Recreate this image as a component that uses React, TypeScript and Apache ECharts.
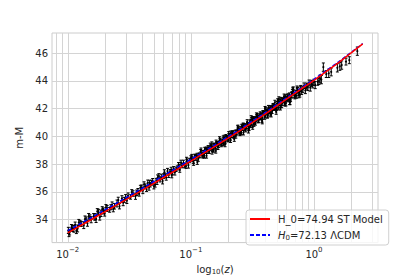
import React, { useEffect, useRef } from "react";
import * as echarts from "echarts";

// ---- data ----
const logZ = [
  -1.995, -1.985, -1.97, -1.95, -1.93, -1.91, -1.89, -1.87, -1.85, -1.83,
  -1.81, -1.79, -1.77, -1.75, -1.73, -1.72, -1.70, -1.68, -1.66, -1.64,
  -1.62, -1.60, -1.58, -1.56, -1.54, -1.52, -1.51, -1.49, -1.47, -1.45,
  -1.43, -1.41, -1.39, -1.37, -1.35, -1.34, -1.33, -1.31, -1.29, -1.28,
  -1.27, -1.25, -1.24, -1.23, -1.21, -1.19, -1.18, -1.17, -1.15, -1.14,
  -1.13, -1.11, -1.10, -1.09, -1.07, -1.06, -1.05, -1.03, -1.02, -1.01,
  -0.99, -0.98, -0.97, -0.96, -0.95, -0.94, -0.93, -0.92, -0.91, -0.90,
  -0.89, -0.88, -0.87, -0.86, -0.85, -0.84, -0.83, -0.82, -0.81, -0.80,
  -0.79, -0.78, -0.77, -0.76, -0.75, -0.74, -0.73, -0.72, -0.71, -0.70,
  -0.69, -0.68, -0.67, -0.66, -0.65, -0.64, -0.63, -0.62, -0.61, -0.60,
  -0.59, -0.58, -0.57, -0.56, -0.55, -0.54, -0.53, -0.52, -0.51, -0.50,
  -0.49, -0.48, -0.47, -0.46, -0.45, -0.44, -0.43, -0.42, -0.41, -0.40,
  -0.39, -0.38, -0.37, -0.36, -0.35, -0.34, -0.33, -0.32, -0.31, -0.30,
  -0.29, -0.28, -0.27, -0.26, -0.25, -0.24, -0.23, -0.22, -0.21, -0.20,
  -0.19, -0.18, -0.17, -0.16, -0.15, -0.14, -0.13, -0.12, -0.11, -0.10,
  -0.09, -0.08, -0.07, -0.06, -0.05, -0.04, -0.03, -0.02, -0.01, 0.00,
  0.01, 0.03, 0.04, 0.05, 0.06, 0.076, 0.10, 0.12, 0.14, 0.19,
  0.21, 0.225, 0.26, 0.287, 0.352,
  -0.895, -0.875, -0.855, -0.835, -0.815, -0.795, -0.775, -0.755, -0.735, -0.715,
  -0.695, -0.675, -0.655, -0.635, -0.615, -0.595, -0.575, -0.555, -0.535, -0.515,
  -0.495, -0.475, -0.455, -0.435, -0.415, -0.395, -0.375, -0.355, -0.335, -0.315,
  -0.295, -0.275, -0.255, -0.235, -0.215, -0.195, -0.175, -0.155, -0.135, -0.115,
  -1.99, -1.96, -1.94, -1.92, -1.90, -1.86, -1.84, -1.82, -1.78, -1.76,
  -1.74, -1.71, -1.69, -1.65, -1.63, -1.59, -1.55, -1.53, -1.48, -1.44,
  -1.42, -1.40, -1.38, -1.36, -1.32, -1.30, -1.26, -1.22, -1.20, -1.16,
  -1.12, -1.08, -1.04, -1.00, -1.335, -1.275, -1.215, -1.155, -1.095, -1.035,
  -0.9925, -0.9775, -0.9625, -0.9475, -0.9325, -0.9175, -0.9025, -0.8875, -0.8725, -0.8575,
  -0.8425, -0.8275, -0.8125, -0.7975, -0.7825, -0.7675, -0.7525, -0.7375, -0.7225, -0.7075,
  -0.6925, -0.6775, -0.6625, -0.6475, -0.6325, -0.6175, -0.6025, -0.5875, -0.5725, -0.5575,
  -0.5425, -0.5275, -0.5125, -0.4975, -0.4825, -0.4675, -0.4525, -0.4375, -0.4225, -0.4075,
  -0.3925, -0.3775, -0.3625, -0.3475, -0.3325, -0.3175, -0.3025, -0.2875, -0.2725, -0.2575,
  -0.2425, -0.2275, -0.2125, -0.1975, -0.1825, -0.1675, -0.1525, -0.1375, -0.1225, -0.1075,
  -0.60, -0.5775, -0.555, -0.5325, -0.51, -0.4875, -0.465, -0.4425, -0.42, -0.3975,
  -0.375, -0.3525, -0.33, -0.3075, -0.285, -0.2625, -0.24, -0.2175, -0.195, -0.1725,
];
const mu = [
  33.23, 33.08, 33.45, 33.35, 33.20, 33.80, 33.70, 33.60, 34.00, 34.25,
  34.00, 34.25, 34.05, 34.55, 34.46, 34.76, 34.46, 34.81, 34.71, 35.07,
  34.97, 35.17, 34.97, 35.53, 35.43, 35.38, 35.73, 35.64, 35.89, 35.69,
  36.05, 36.30, 36.10, 36.41, 36.66, 36.32, 36.52, 36.77, 36.53, 36.83,
  37.03, 36.89, 37.09, 36.79, 37.20, 37.50, 37.21, 37.46, 37.42, 37.67,
  37.42, 37.73, 37.94, 37.59, 37.90, 38.10, 37.90, 38.21, 37.92, 38.27,
  38.37, 38.23, 38.58, 38.44, 38.64, 38.39, 38.65, 38.90, 38.66, 38.86,
  38.61, 39.02, 38.92, 39.18, 38.93, 39.13, 39.44, 39.04, 39.35, 39.25,
  39.51, 39.21, 39.52, 39.72, 39.48, 39.64, 39.94, 39.60, 39.90, 39.81,
  40.07, 39.87, 40.08, 40.28, 39.99, 40.30, 40.25, 40.61, 40.31, 40.57,
  40.28, 40.59, 40.80, 40.56, 40.72, 40.87, 40.68, 41.04, 40.90, 41.21,
  40.97, 41.28, 41.19, 41.50, 41.16, 41.42, 41.62, 41.38, 41.64, 41.40,
  41.81, 41.72, 42.08, 41.80, 42.01, 41.82, 42.23, 42.09, 42.05, 42.37,
  42.08, 42.39, 42.65, 42.41, 42.62, 42.43, 42.85, 42.71, 42.67, 42.98,
  42.69, 43.00, 43.21, 42.97, 43.13, 42.95, 43.36, 43.17, 43.43, 43.24,
  43.40, 43.66, 43.32, 43.63, 43.55, 43.86, 43.52, 43.83, 43.74, 43.90,
  43.71, 43.94, 44.00, 44.15, 44.10, 45.00, 44.50, 44.55, 44.65, 44.95,
  45.05, 45.15, 45.40, 45.50, 46.15,
  38.64, 39.10, 38.95, 39.21, 39.02, 39.58, 39.34, 39.60, 39.47, 39.98,
  39.74, 40.25, 40.06, 40.03, 40.49, 40.35, 40.82, 40.49, 40.86, 40.77,
  41.29, 40.96, 41.38, 41.35, 41.71, 41.48, 41.85, 41.63, 42.20, 42.07,
  42.55, 42.22, 42.64, 42.36, 42.84, 42.76, 43.23, 42.90, 43.33, 43.05,
  32.98, 33.37, 33.63, 33.37, 33.73, 34.05, 33.73, 34.17, 34.20, 34.60,
  34.17, 34.63, 34.89, 34.90, 34.77, 35.42, 35.23, 35.61, 35.99, 35.94,
  35.88, 36.30, 36.55, 36.21, 36.67, 36.42, 37.14, 37.15, 37.03, 37.61,
  37.63, 38.11, 37.86, 38.44, 36.66, 36.71, 37.42, 37.19, 37.83, 38.33,
  38.56, 38.09, 38.57, 38.15, 38.63, 39.02, 38.60, 39.08, 38.61, 39.09,
  39.37, 38.90, 39.38, 38.96, 39.45, 39.83, 39.42, 39.90, 39.43, 39.92,
  40.20, 39.74, 40.22, 39.81, 40.29, 40.67, 40.26, 40.74, 40.28, 40.77,
  41.06, 40.60, 41.09, 40.68, 41.17, 41.55, 41.14, 41.63, 41.17, 41.66,
  41.95, 41.49, 41.98, 41.57, 42.07, 42.46, 42.05, 42.54, 42.08, 42.58,
  42.87, 42.41, 42.90, 42.50, 42.99, 43.38, 42.97, 43.46, 43.00, 43.49,
  40.22, 40.75, 40.69, 40.42, 41.35, 40.89, 41.42, 41.35, 41.08, 42.01,
  41.55, 42.09, 42.03, 41.77, 42.71, 42.24, 42.78, 42.72, 42.46, 43.40,
];
const muErr = [
  0.22, 0.18, 0.20, 0.25, 0.20, 0.22, 0.18, 0.24, 0.20, 0.20,
  0.22, 0.19, 0.25, 0.20, 0.23, 0.18, 0.20, 0.22, 0.17, 0.21,
  0.20, 0.25, 0.19, 0.20, 0.18, 0.21, 0.20, 0.16, 0.20, 0.22,
  0.20, 0.18, 0.22, 0.17, 0.20, 0.19, 0.16, 0.20, 0.18, 0.15,
  0.20, 0.17, 0.19, 0.21, 0.16, 0.20, 0.17, 0.15, 0.18, 0.16,
  0.20, 0.15, 0.18, 0.17, 0.16, 0.19, 0.15, 0.17, 0.20, 0.16,
  0.15, 0.17, 0.14, 0.16, 0.15, 0.18, 0.14, 0.16, 0.15, 0.13,
  0.17, 0.15, 0.14, 0.16, 0.15, 0.13, 0.17, 0.14, 0.15, 0.16,
  0.14, 0.15, 0.13, 0.16, 0.14, 0.15, 0.15, 0.13, 0.14, 0.16,
  0.14, 0.13, 0.15, 0.14, 0.13, 0.15, 0.14, 0.16, 0.13, 0.14,
  0.15, 0.13, 0.14, 0.15, 0.13, 0.14, 0.16, 0.13, 0.14, 0.15,
  0.14, 0.15, 0.13, 0.16, 0.14, 0.15, 0.14, 0.13, 0.15, 0.16,
  0.14, 0.15, 0.16, 0.14, 0.15, 0.16, 0.15, 0.14, 0.17, 0.15,
  0.16, 0.15, 0.17, 0.16, 0.15, 0.18, 0.16, 0.15, 0.17, 0.16,
  0.18, 0.17, 0.19, 0.18, 0.20, 0.19, 0.20, 0.22, 0.20, 0.21,
  0.22, 0.20, 0.23, 0.22, 0.24, 0.21, 0.25, 0.22, 0.24, 0.23,
  0.26, 0.25, 0.25, 0.28, 0.30, 0.30, 0.25, 0.30, 0.28, 0.30,
  0.28, 0.30, 0.25, 0.25, 0.30,
  0.15, 0.14, 0.16, 0.14, 0.15, 0.16, 0.14, 0.15, 0.14, 0.16,
  0.13, 0.15, 0.14, 0.15, 0.13, 0.14, 0.15, 0.16, 0.14, 0.13,
  0.15, 0.14, 0.15, 0.13, 0.16, 0.14, 0.15, 0.16, 0.14, 0.15,
  0.17, 0.16, 0.15, 0.17, 0.16, 0.18, 0.17, 0.19, 0.20, 0.21,
  0.20, 0.22, 0.20, 0.25, 0.20, 0.22, 0.20, 0.18, 0.24, 0.20,
  0.20, 0.22, 0.20, 0.18, 0.20, 0.20, 0.22, 0.20, 0.18, 0.20,
  0.18, 0.20, 0.18, 0.17, 0.18, 0.20, 0.18, 0.17, 0.18, 0.17,
  0.16, 0.18, 0.16, 0.17, 0.18, 0.17, 0.18, 0.17, 0.16, 0.17,
  0.15, 0.17, 0.14, 0.16, 0.18, 0.15, 0.16, 0.14, 0.17, 0.15,
  0.15, 0.17, 0.14, 0.16, 0.18, 0.15, 0.16, 0.14, 0.17, 0.15,
  0.15, 0.17, 0.14, 0.16, 0.18, 0.15, 0.16, 0.14, 0.17, 0.15,
  0.15, 0.17, 0.14, 0.16, 0.18, 0.15, 0.16, 0.14, 0.17, 0.15,
  0.15, 0.17, 0.14, 0.16, 0.18, 0.15, 0.16, 0.14, 0.17, 0.15,
  0.19, 0.21, 0.18, 0.20, 0.22, 0.19, 0.20, 0.18, 0.21, 0.19,
  0.16, 0.14, 0.15, 0.17, 0.15, 0.16, 0.14, 0.15, 0.17, 0.15,
  0.16, 0.14, 0.15, 0.17, 0.15, 0.16, 0.14, 0.15, 0.17, 0.15,
];

// model curves
const lineLogZ = [-2.0, -1.8, -1.6, -1.4, -1.2, -1.0, -0.8, -0.6, -0.4, -0.2, 0.0, 0.2, 0.396];
const stMu = [33.05, 34.05, 35.07, 36.10, 37.15, 38.22, 39.30, 40.42, 41.60, 42.83, 44.05, 45.33, 46.67];
const lcdmMu = [33.21, 34.20, 35.22, 36.24, 37.29, 38.35, 39.42, 40.53, 41.70, 42.92, 44.12, 45.38, 46.69];

const seriesNames = ["H_0=74.94 ST Model", "H0=72.13 \u039bCDM"];

// ticks
const xMajorDecades = [-2, -1, 0];
const minorMultipliers = [2, 3, 4, 5, 6, 7, 8, 9];
const minorDecades = [-3, -2, -1, 0];
const yTicks = [34, 36, 38, 40, 42, 44, 46];

const X_MIN = -2.128;
const X_MAX = 0.52;
const Y_MIN = 32.35;
const Y_MAX = 47.46;

const FONT = "DejaVu Sans";
const TXT = "#262626";

export default function App() {
  const ref = useRef<HTMLDivElement>(null);
  useEffect(() => {
    if (!ref.current) return;
    const chart = echarts.init(ref.current, undefined, { renderer: "svg" });

    const xTickVals: number[] = [...xMajorDecades];
    minorDecades.forEach((d) =>
      minorMultipliers.forEach((m) => {
        const v = d + Math.log10(m);
        if (v > X_MIN && v < X_MAX) xTickVals.push(v);
      })
    );
    xTickVals.sort((a, b) => a - b);

    const n = Math.min(logZ.length, mu.length, muErr.length);
    const errData = logZ.slice(0, n).map((x, i) => [x, mu[i], muErr[i]]);

    chart.setOption({
      animation: false,
      backgroundColor: "#ffffff",
      grid: {
        left: 52,
        top: 33,
        right: 42,
        bottom: 36,
        show: true,
        borderColor: "#cccccc",
        borderWidth: 1,
        backgroundColor: "#ffffff",
      },
      xAxis: {
        type: "value",
        min: X_MIN,
        max: X_MAX,
        name: "{t|log}{sub|10}{t|(}{it|z}{t|)}",
        nameLocation: "middle",
        nameGap: 19,
        nameTextStyle: {
          rich: {
            t: { fontFamily: FONT, fontSize: 10, color: TXT },
            it: { fontFamily: FONT, fontSize: 10, color: TXT, fontStyle: "italic" },
            sub: { fontFamily: FONT, fontSize: 7, color: TXT, padding: [5, 0, 0, 0] },
          },
        },
        axisLine: { show: false },
        axisTick: { show: false, customValues: xTickVals },
        axisLabel: {
          customValues: xMajorDecades,
          margin: 4,
          formatter: (v: number) => {
            const e = v === 0 ? "0" : "\u2212" + Math.abs(Math.round(v));
            return "{b|10}{s|" + e + "}";
          },
          rich: {
            b: { fontFamily: FONT, fontSize: 10, color: TXT },
            s: { fontFamily: FONT, fontSize: 7, color: TXT, padding: [0, 0, 8, 0] },
          },
        },
        splitLine: { show: true, lineStyle: { color: "#d4d4d4", width: 1 } },
      },
      yAxis: {
        type: "value",
        min: Y_MIN,
        max: Y_MAX,
        name: "m-M",
        nameLocation: "middle",
        nameGap: 21,
        nameTextStyle: { fontFamily: FONT, fontSize: 10, color: TXT },
        axisLine: { show: false },
        axisTick: { show: false, customValues: yTicks },
        axisLabel: {
          customValues: yTicks,
          margin: 4,
          fontFamily: FONT,
          fontSize: 10,
          color: TXT,
        },
        splitLine: { show: true, lineStyle: { color: "#d4d4d4", width: 1 } },
      },
      legend: {
        data: seriesNames,
        orient: "vertical",
        left: 246,
        top: 210,
        itemWidth: 20,
        itemHeight: 8,
        itemGap: 6,
        padding: [4, 6, 4, 3],
        backgroundColor: "rgba(255,255,255,0.8)",
        borderColor: "#d0d0d0",
        borderWidth: 1,
        borderRadius: 3,
        itemStyle: { opacity: 0, borderWidth: 0 },
        formatter: (name: string) =>
          name === seriesNames[1]
            ? "{it|H}{sub|0}{n|=72.13 \u039bCDM}"
            : "{n|" + name + "}",
        textStyle: {
          padding: [0, 0, 0, 3],
          rich: {
            n: { fontFamily: FONT, fontSize: 10, color: TXT },
            it: { fontFamily: FONT, fontSize: 10, color: TXT, fontStyle: "italic" },
            sub: { fontFamily: FONT, fontSize: 7, color: TXT, padding: [5, 0, 0, 0] },
          },
        },
      },
      series: [
        {
          type: "custom",
          name: "data",
          data: errData,
          encode: { x: 0, y: 1 },
          clip: true,
          z: 2,
          renderItem: (params: any, api: any) => {
            const x = api.value(0);
            const y = api.value(1);
            const e = api.value(2);
            const c = api.coord([x, y]);
            const t = api.coord([x, y + e]);
            const b = api.coord([x, y - e]);
            const cw = 1.5;
            const st = { stroke: "#000000", lineWidth: 1 };
            return {
              type: "group",
              children: [
                { type: "line", shape: { x1: c[0], y1: t[1], x2: c[0], y2: b[1] }, style: st },
                { type: "line", shape: { x1: c[0] - cw, y1: t[1], x2: c[0] + cw, y2: t[1] }, style: st },
                { type: "line", shape: { x1: c[0] - cw, y1: b[1], x2: c[0] + cw, y2: b[1] }, style: st },
                { type: "circle", shape: { cx: c[0], cy: c[1], r: 1 }, style: { fill: "#000000" } },
              ],
            };
          },
        },
        {
          type: "line",
          name: seriesNames[0],
          data: lineLogZ.map((x, i) => [x, stMu[i]]),
          symbol: "none",
          z: 6,
          lineStyle: { color: "#ff0000", width: 1.5 },
          itemStyle: { color: "#ff0000" },
        },
        {
          type: "line",
          name: seriesNames[1],
          data: lineLogZ.map((x, i) => [x, lcdmMu[i]]),
          symbol: "none",
          z: 5,
          lineStyle: { color: "#0000ff", width: 1.5, type: [4, 2] },
          itemStyle: { color: "#0000ff" },
        },
      ],
    });
    return () => chart.dispose();
  }, []);
  return (
    <div
      ref={ref}
      style={{ position: "fixed", left: 0, top: 0, width: 420, height: 280 }}
    />
  );
}
